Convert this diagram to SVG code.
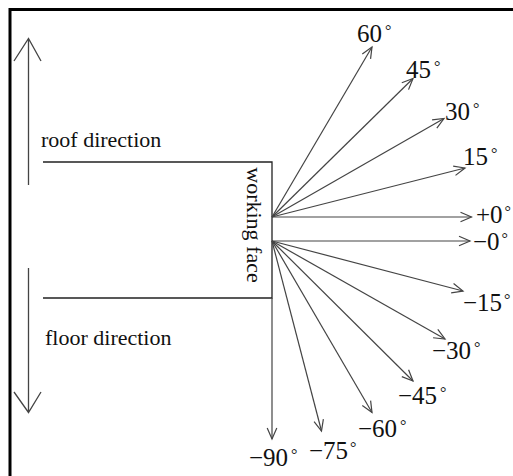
<svg xmlns="http://www.w3.org/2000/svg" width="513" height="476" viewBox="0 0 513 476">
<style>
.t{font-family:"Liberation Serif","Times New Roman",serif;font-size:22px;fill:#111}
.a{font-family:"Liberation Serif","Times New Roman",serif;font-size:25px;fill:#111}
.d{font-size:16px}
.ar{stroke:#444;stroke-width:1.2;fill:none;marker-end:url(#h)}
.bx{stroke:#222;stroke-width:1.3;fill:none}
.big{stroke:#444;stroke-width:1.3;fill:none}
</style>
<defs>
<marker id="h" markerUnits="userSpaceOnUse" orient="auto" markerWidth="14" markerHeight="12" refX="0" refY="0" viewBox="-12 -6 14 12" overflow="visible">
<path d="M-11,-4.8 L0,0 L-11,4.8" fill="none" stroke="#444" stroke-width="1.2"/>
</marker>
</defs>
<rect width="513" height="476" fill="#fff"/>
<path d="M10,476 V9.5 H513" fill="none" stroke="#000" stroke-width="3"/>
<g id="roof-direction">
<path class="big" d="M28.5,185 V38.5 M14,61 L28.5,38.5 L41,61"/>
<text class="t" x="41" y="147">roof direction</text>
</g>
<g id="floor-direction">
<path class="big" d="M28.5,268 V412.5 M14,392 L28.5,412.5 L41,392"/>
<text class="t" x="45" y="345">floor direction</text>
</g>
<g id="working-face">
<path class="bx" d="M43,162 H272 V298 H43"/>
<text class="t" transform="translate(247,225) rotate(90)" text-anchor="middle">working face</text>
</g>
<g id="connectors">
<line class="ar" x1="272" y1="217" x2="372" y2="47"/>
<line class="ar" x1="272" y1="217" x2="413" y2="78.5"/>
<line class="ar" x1="272" y1="217" x2="444" y2="118.5"/>
<line class="ar" x1="272" y1="217" x2="465" y2="168"/>
<line class="ar" x1="272" y1="217" x2="471.5" y2="217"/>
<line class="ar" x1="272" y1="241" x2="470" y2="241"/>
<line class="ar" x1="272" y1="241" x2="463" y2="291"/>
<line class="ar" x1="272" y1="241" x2="445" y2="339"/>
<line class="ar" x1="272" y1="241" x2="413" y2="381"/>
<line class="ar" x1="272" y1="241" x2="372" y2="412.5"/>
<line class="ar" x1="272" y1="241" x2="321.5" y2="431"/>
<line class="ar" x1="272" y1="298" x2="272" y2="439"/>
</g>
<g id="labels">
<text class="a" x="357" y="42">60<tspan class="d" dx="3" dy="-6">°</tspan></text>
<text class="a" x="406" y="78">45<tspan class="d" dx="3" dy="-6">°</tspan></text>
<text class="a" x="445" y="120">30<tspan class="d" dx="3" dy="-6">°</tspan></text>
<text class="a" x="463" y="165">15<tspan class="d" dx="3" dy="-6">°</tspan></text>
<text class="a" x="476" y="223">+0<tspan class="d" dx="2" dy="-6">°</tspan></text>
<text class="a" x="473" y="250">−0<tspan class="d" dx="2" dy="-6">°</tspan></text>
<text class="a" x="463" y="311">−15<tspan class="d" dx="2" dy="-6">°</tspan></text>
<text class="a" x="432" y="359">−30<tspan class="d" dx="3" dy="-6">°</tspan></text>
<text class="a" x="398" y="404">−45<tspan class="d" dx="3" dy="-6">°</tspan></text>
<text class="a" x="358" y="437">−60<tspan class="d" dx="3" dy="-6">°</tspan></text>
<text class="a" x="309" y="459">−75<tspan class="d" dx="2" dy="-6">°</tspan></text>
<text class="a" x="249" y="466">−90<tspan class="d" dx="3" dy="-6">°</tspan></text>
</g>
</svg>
